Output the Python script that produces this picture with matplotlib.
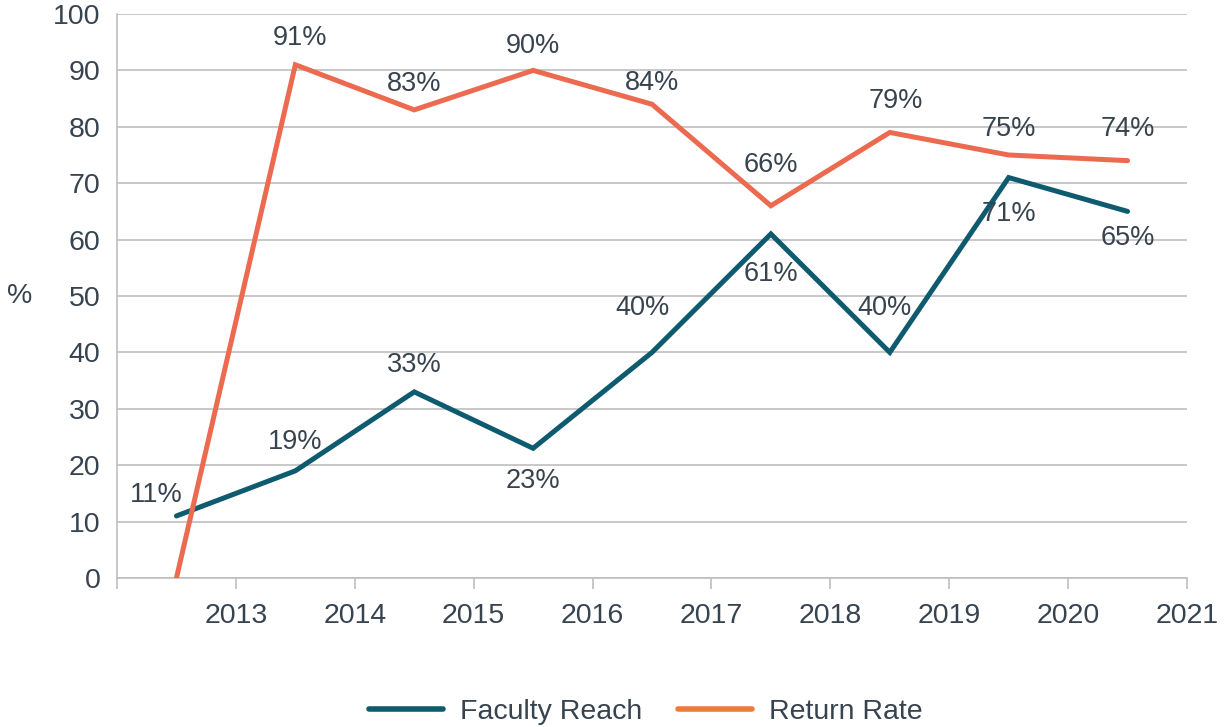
import numpy as np
import matplotlib.pyplot as plt
from matplotlib.lines import Line2D

plt.rcParams['font.family'] = ['Liberation Sans', 'DejaVu Sans']

years = ['2013', '2014', '2015', '2016', '2017', '2018', '2019', '2020', '2021']
faculty_reach = [11, 19, 33, 23, 40, 61, 40, 71, 65]
return_rate = [0, 91, 83, 90, 84, 66, 79, 75, 74]

# label offsets in pixels (dx, dy)
fr_off = [(-20, 21), (0, 29), (0, 27), (0, -33), (-9, 44), (0, -40), (-5, 44), (0, -36), (0, -27)]
rr_off = [None, (5, 27), (0, 26), (0, 24), (0, 21), (0, 41), (6, 31), (0, 26), (0, 32)]

teal = '#0E5A6E'
orange = '#EC6A4F'
txt = '#37434F'
grid = '#BFBFBF'

fig = plt.figure(figsize=(12.25, 7.27), dpi=100)
ax = fig.add_axes([117/1225, 1 - 578/727, 1070/1225, 564/727])

x = np.arange(len(faculty_reach)) + 0.5
ax.plot(x, faculty_reach, color=teal, lw=3.6, solid_capstyle='round', solid_joinstyle='miter', zorder=3)
ax.plot(x, return_rate, color=orange, lw=3.6, solid_capstyle='round', solid_joinstyle='miter', zorder=3)

for xi, v, o in zip(x, faculty_reach, fr_off):
    ax.annotate(f'{v}%', (xi, v), xytext=o, textcoords='offset pixels',
                ha='center', va='center', fontsize=19.5, color=txt)
for xi, v, o in zip(x, return_rate, rr_off):
    if o is None:
        continue
    ax.annotate(f'{v}%', (xi, v), xytext=o, textcoords='offset pixels',
                ha='center', va='center', fontsize=19.5, color=txt)

ax.set_xlim(0, len(years))
ax.set_ylim(0, 100)
ax.set_yticks(np.arange(0, 101, 10))
ax.set_xticks(np.arange(0, len(years) + 1))
ax.set_xticklabels([''] + years)
ax.grid(axis='y', color=grid, lw=1.2)
ax.set_axisbelow(True)
for s in ['top', 'right']:
    ax.spines[s].set_visible(False)
for s in ['left', 'bottom']:
    ax.spines[s].set_color(grid)
    ax.spines[s].set_linewidth(1.2)
ax.tick_params(axis='y', length=0, labelsize=20.5, labelcolor=txt, pad=12)
ax.tick_params(axis='x', length=8, color=grid, width=1.2, labelsize=20.5, labelcolor=txt, pad=10)
ax.set_ylabel('%', rotation=0, fontsize=20.5, color=txt, labelpad=24, va='center')

handles = [Line2D([], [], color=teal, lw=4, solid_capstyle='round'),
           Line2D([], [], color='#F07A3A', lw=4, solid_capstyle='round')]
fig.legend(handles, ['Faculty Reach', 'Return Rate'], loc='lower center',
           bbox_to_anchor=(0.527, -0.033), ncol=2, frameon=False, fontsize=20.5,
           labelcolor=txt, handlelength=2.6, columnspacing=1.25, handletextpad=0.6)

fig.savefig('out.png', dpi=100)
